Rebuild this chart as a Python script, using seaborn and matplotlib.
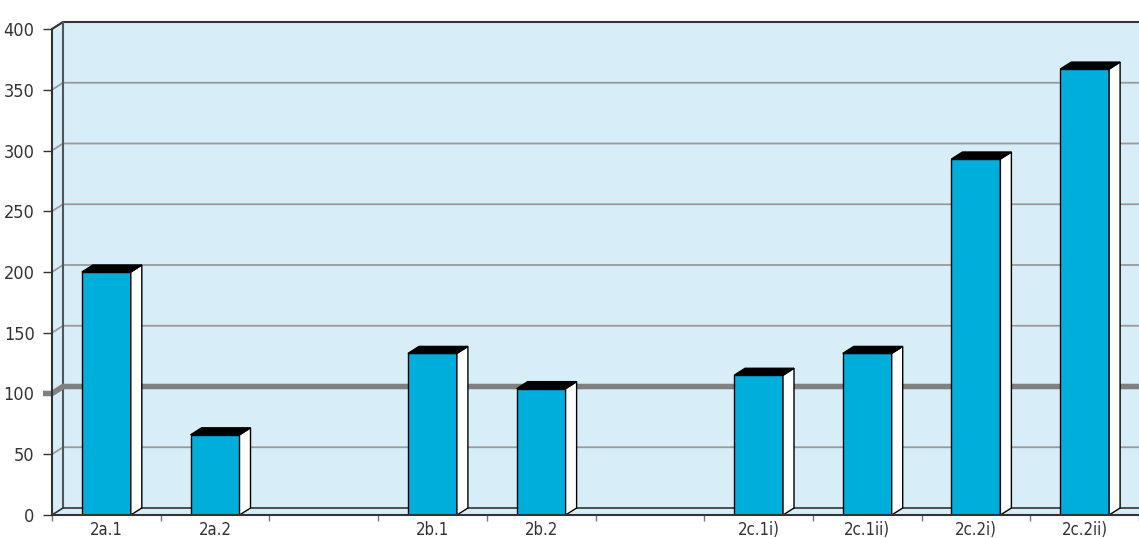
import numpy as np
import pandas as pd
import seaborn as sns
import matplotlib.pyplot as plt
from matplotlib.patches import Polygon

# === Data ===
categories = ["2a.1", "2a.2", "2b.1", "2b.2", "2c.1i)", "2c.1ii)", "2c.2i)", "2c.2ii)"]
values = [200, 66, 133, 104, 115, 133, 293, 367]
slots = ["2a.1", "2a.2", "gap1", "2b.1", "2b.2", "gap2", "2c.1i)", "2c.1ii)", "2c.2i)", "2c.2ii)"]
yticks = [0, 50, 100, 150, 200, 250, 300, 350, 400]
ref_value = 100

df = pd.DataFrame({"cat": categories, "val": values})

# === Style ===
sns.set_theme(style="white")
plt.rcParams["font.family"] = ["Liberation Sans Narrow", "DejaVu Sans"]
plt.rcParams["font.stretch"] = "condensed"

wall = "#d7eef8"
grid = "#9a9a9a"
bar_col = "#00aedb"
dark = "#333333"

W, H = 1139, 538
fig = plt.figure(figsize=(W / 100, H / 100), dpi=100)
fig.patch.set_facecolor("white")
ax = fig.add_axes([52 / W, (H - 515) / H, 1087 / W, 486 / H])
ax.set_facecolor("none")

sns.barplot(data=df, x="cat", y="val", order=slots, color=bar_col, width=0.45,
            edgecolor="black", linewidth=1, saturation=1, ax=ax, zorder=3)

ax.set_xlim(-0.5, len(slots) - 0.5)
ax.set_ylim(0, 400)

# depth offset: 11 px right, 7 px up, in data units
dx = 11 / (1087 / len(slots))
dy = 7 / (486 / 400)
x0, x1 = -0.5, len(slots) - 0.5 + 0.3

# back wall, side wall, floor
ax.add_patch(Polygon([(x0 + dx, dy), (x1 + dx, dy), (x1 + dx, 400 + dy), (x0 + dx, 400 + dy)],
                     closed=True, fc=wall, ec="none", zorder=0, clip_on=False))
ax.add_patch(Polygon([(x0, 0), (x0 + dx, dy), (x0 + dx, 400 + dy), (x0, 400)],
                     closed=True, fc=wall, ec="none", zorder=0, clip_on=False))
ax.add_patch(Polygon([(x0, 0), (x1, 0), (x1 + dx, dy), (x0 + dx, dy)],
                     closed=True, fc=wall, ec="none", zorder=0, clip_on=False))

# gridlines on back and side walls
for y in yticks[1:]:
    ax.plot([x0, x0 + dx, x1 + dx], [y, y + dy, y + dy], color=grid, lw=1.3,
            zorder=1, clip_on=False)
# wall edges
ax.plot([x0, x0 + dx, x1 + dx], [400, 400 + dy, 400 + dy], color=dark, lw=1.5, zorder=1, clip_on=False)
ax.plot([x0 + dx, x0 + dx], [dy, 400 + dy], color="#555555", lw=1.5, zorder=1, clip_on=False)
ax.plot([x0, x0 + dx, x1 + dx], [0, dy, dy], color=dark, lw=1.2, zorder=1, clip_on=False)

# reference line
stub = 9 / (1087 / len(slots))
ax.plot([x0 - stub, x0, x0 + dx, x1 + dx], [ref_value, ref_value, ref_value + dy, ref_value + dy],
        color="#808080", lw=4, solid_capstyle="butt", zorder=2, clip_on=False)

# 3D top and side faces of bars
for p in ax.patches:
    if not isinstance(p, plt.Rectangle):
        continue
    h = p.get_height()
    if not np.isfinite(h) or h <= 0:
        continue
    bx0 = p.get_x()
    bx1 = bx0 + p.get_width()
    ax.add_patch(Polygon([(bx1, 0), (bx1 + dx, dy), (bx1 + dx, h + dy), (bx1, h)],
                         closed=True, fc="white", ec="black", lw=1, zorder=3, clip_on=False))
    ax.add_patch(Polygon([(bx0, h), (bx1, h), (bx1 + dx, h + dy), (bx0 + dx, h + dy)],
                         closed=True, fc="black", ec="black", lw=1, zorder=3, clip_on=False))

# axes, ticks, labels
for s in ["top", "right"]:
    ax.spines[s].set_visible(False)
for s in ["left", "bottom"]:
    ax.spines[s].set_color(dark)
    ax.spines[s].set_linewidth(1.5)
    ax.spines[s].set_zorder(4)

ax.set_yticks(yticks)
ax.set_yticklabels([str(v) for v in yticks])
ax.set_xticks(range(len(slots)))
ax.set_xticklabels(["" if s.startswith("gap") else s for s in slots])
ax.set_xticks(np.arange(-0.5, len(slots), 1), minor=True)
ax.tick_params(axis="y", left=True, length=6.5, width=1, color=dark, pad=6,
               labelsize=13, labelcolor=dark)
ax.tick_params(axis="x", which="major", bottom=True, length=0, pad=4.5,
               labelsize=12, labelcolor=dark)
ax.tick_params(axis="x", which="minor", bottom=True, length=4, width=1, color="#777777")
ax.set_xlabel("")
ax.set_ylabel("")

plt.savefig("out.png", dpi=100)
